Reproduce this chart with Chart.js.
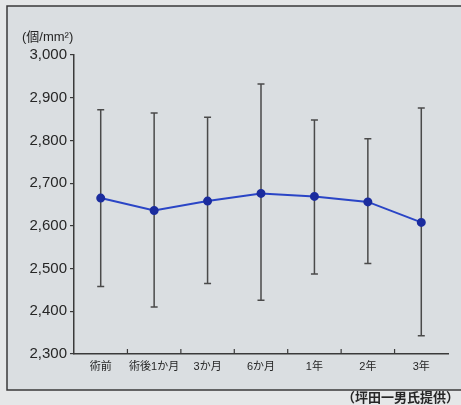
<!DOCTYPE html>
<html>
<head>
<meta charset="utf-8">
<script src="https://cdn.jsdelivr.net/npm/chart.js@4.4.1/dist/chart.umd.min.js"></script>
<style>
  html, body { margin: 0; padding: 0; background: #e5e7e8; }
  #wrap { position: relative; width: 461px; height: 405px; }
</style>
</head>
<body>
<div id="wrap"><canvas id="chart" width="461" height="405"></canvas></div>
<script>
"use strict";

// Data
var categories = ['術前', '術後1か月', '3か月', '6か月', '1年', '2年', '3年'];
var means = [2665, 2636, 2658, 2676, 2669, 2656, 2608];
var upper = [2872, 2864, 2854, 2932, 2848, 2804, 2876];
var lower = [2458, 2410, 2465, 2426, 2487, 2512, 2343];

var unitLabel = '(個/mm²)';
var sourceLabel = '（坪田一男氏提供）';

var fontFamily = "'Liberation Sans', Arial, 'Noto Sans CJK JP', sans-serif";
var inkColor = '#262626';

// Background, frame and captions
var framePlugin = {
    id: 'frame',
    beforeDraw: function (chart) {
        var ctx = chart.ctx;
        ctx.save();
        ctx.fillStyle = '#e5e7e8';
        ctx.fillRect(0, 0, chart.width, chart.height);
        ctx.fillStyle = '#dadee1';
        ctx.fillRect(7, 6, chart.width, 384);
        ctx.strokeStyle = '#3a3a3a';
        ctx.lineWidth = 1.5;
        ctx.beginPath();
        ctx.moveTo(chart.width + 2, 6);
        ctx.lineTo(7, 6);
        ctx.lineTo(7, 390);
        ctx.lineTo(chart.width + 2, 390);
        ctx.stroke();

        ctx.fillStyle = inkColor;
        ctx.font = '13px ' + fontFamily;
        ctx.textBaseline = 'middle';
        ctx.textAlign = 'left';
        ctx.fillText(unitLabel, 22, 37);
        ctx.font = 'bold 13px ' + fontFamily;
        ctx.fillText(sourceLabel, 342, 398);
        ctx.restore();
    },
    afterDatasetsDraw: function (chart) {
        // x ticks pointing up, on category boundaries
        var ctx = chart.ctx;
        var x = chart.scales.x;
        var area = chart.chartArea;
        ctx.save();
        ctx.strokeStyle = '#3a3a3a';
        ctx.lineWidth = 1.2;
        ctx.beginPath();
        for (var i = 1; i < categories.length; i++) {
            var px = (x.getPixelForValue(i - 1) + x.getPixelForValue(i)) / 2;
            ctx.moveTo(px, area.bottom);
            ctx.lineTo(px, area.bottom - 5);
        }
        ctx.stroke();
        ctx.restore();
    }
};

// Error bars (range) drawn under the line
var errorBarPlugin = {
    id: 'errorBars',
    beforeDatasetsDraw: function (chart) {
        var ctx = chart.ctx;
        var x = chart.scales.x;
        var y = chart.scales.y;
        ctx.save();
        ctx.strokeStyle = '#4a4a4a';
        ctx.lineWidth = 1.5;
        for (var i = 0; i < categories.length; i++) {
            var px = x.getPixelForValue(i);
            var top = y.getPixelForValue(upper[i]);
            var bottom = y.getPixelForValue(lower[i]);
            ctx.beginPath();
            ctx.moveTo(px, top);
            ctx.lineTo(px, bottom);
            ctx.moveTo(px - 3.5, top);
            ctx.lineTo(px + 3.5, top);
            ctx.moveTo(px - 3.5, bottom);
            ctx.lineTo(px + 3.5, bottom);
            ctx.stroke();
        }
        ctx.restore();
    }
};

var chart = new Chart(document.getElementById('chart').getContext('2d'), {
    type: 'line',
    data: {
        labels: categories,
        datasets: [{
            data: means,
            borderColor: '#2a45c6',
            borderWidth: 2,
            backgroundColor: '#1b2c9e',
            pointBackgroundColor: '#1b2c9e',
            pointBorderColor: '#1b2c9e',
            pointRadius: 3.5,
            tension: 0
        }]
    },
    options: {
        responsive: false,
        animation: false,
        layout: {
            padding: { top: 55, right: 13, bottom: 0, left: 0 }
        },
        plugins: {
            legend: { display: false },
            tooltip: { enabled: false },
            title: { display: false }
        },
        scales: {
            x: {
                offset: true,
                grid: { display: false, drawTicks: false },
                border: { display: true, color: '#3a3a3a', width: 1.5 },
                ticks: {
                    color: inkColor,
                    padding: 6,
                    maxRotation: 0,
                    autoSkip: false,
                    font: { family: fontFamily, size: 11 }
                },
                afterFit: function (scale) { scale.height = 51; }
            },
            y: {
                min: 2300,
                max: 3000,
                grid: {
                    drawOnChartArea: false,
                    drawTicks: true,
                    tickLength: 4,
                    color: '#3a3a3a',
                    lineWidth: 1.2
                },
                border: { display: true, color: '#3a3a3a', width: 1.5 },
                ticks: {
                    stepSize: 100,
                    color: inkColor,
                    padding: 3,
                    font: { family: fontFamily, size: 15 },
                    callback: function (v) { return v.toLocaleString('en-US'); }
                },
                afterFit: function (scale) { scale.width = 74; }
            }
        }
    },
    plugins: [framePlugin, errorBarPlugin]
});
</script>
</body>
</html>
